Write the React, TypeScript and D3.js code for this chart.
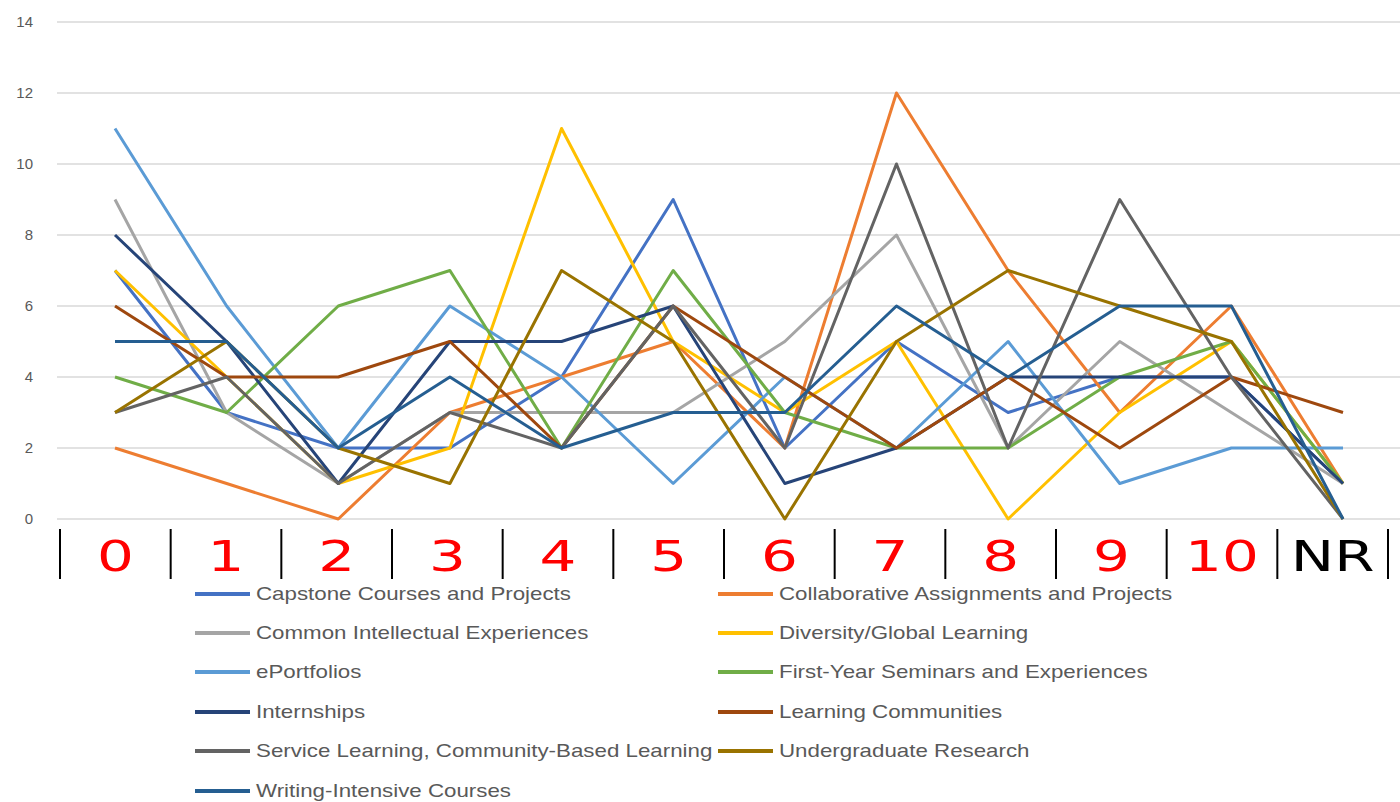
import React from "react";
import * as d3 from "d3";

const categories = ["0", "1", "2", "3", "4", "5", "6", "7", "8", "9", "10", "NR"];
const yTicks = [0, 2, 4, 6, 8, 10, 12, 14];

const seriesNames = [
  "Capstone Courses and Projects",
  "Collaborative Assignments and Projects",
  "Common Intellectual Experiences",
  "Diversity/Global Learning",
  "ePortfolios",
  "First-Year Seminars and Experiences",
  "Internships",
  "Learning Communities",
  "Service Learning, Community-Based Learning",
  "Undergraduate Research",
  "Writing-Intensive Courses",
];

const capstone = [7, 3, 2, 2, 4, 9, 2, 5, 3, 4, 4, 1];
const collaborative = [2, 1, 0, 3, 4, 5, 2, 12, 7, 3, 6, 1];
const common = [9, 3, 1, 3, 3, 3, 5, 8, 2, 5, 3, 1];
const diversity = [7, 4, 1, 2, 11, 5, 3, 5, 0, 3, 5, 1];
const eportfolios = [11, 6, 2, 6, 4, 1, 4, 2, 5, 1, 2, 2];
const firstYear = [4, 3, 6, 7, 2, 7, 3, 2, 2, 4, 5, 1];
const internships = [8, 5, 1, 5, 5, 6, 1, 2, 4, 4, 4, 1];
const learningCommunities = [6, 4, 4, 5, 2, 6, 4, 2, 4, 2, 4, 3];
const serviceLearning = [3, 4, 1, 3, 2, 6, 2, 10, 2, 9, 4, 0];
const undergradResearch = [3, 5, 2, 1, 7, 5, 0, 5, 7, 6, 5, 0];
const writingIntensive = [5, 5, 2, 4, 2, 3, 3, 6, 4, 6, 6, 0];

const seriesValues = [
  capstone,
  collaborative,
  common,
  diversity,
  eportfolios,
  firstYear,
  internships,
  learningCommunities,
  serviceLearning,
  undergradResearch,
  writingIntensive,
];

const colors = [
  "#4472C4",
  "#ED7D31",
  "#A5A5A5",
  "#FFC000",
  "#5B9BD5",
  "#70AD47",
  "#264478",
  "#9E480E",
  "#636363",
  "#997300",
  "#255E91",
];

export default function App() {
  const W = 1400;
  const H = 802;
  const xBand = d3.scaleBand<string>().domain(categories).range([60, 1388]).padding(0);
  const xPoint = d3.scalePoint<string>().domain(categories).range([115, 1343]);
  const y = d3.scaleLinear().domain([0, 14]).range([519, 22]);
  const bandCenter = (c: string) => (xBand(c) as number) + xBand.bandwidth() / 2;
  const line = d3
    .line<number>()
    .x((_, i) => xPoint(categories[i]) as number)
    .y((d) => y(d));

  const boundaries = categories.map((c) => xBand(c) as number).concat([xBand.range()[1]]);

  return (
    <svg
      width={W}
      height={H}
      style={{ position: "absolute", left: 0, top: 0, background: "#fff" }}
      fontFamily="'Liberation Sans', Arial, sans-serif"
    >
      {yTicks.map((t) => (
        <g key={t}>
          <line x1={57} x2={1400} y1={y(t)} y2={y(t)} stroke="#D9D9D9" strokeWidth={1.5} />
          <text x={33} y={y(t)} dy="0.35em" textAnchor="end" fontSize={15} fill="#595959">
            {t}
          </text>
        </g>
      ))}

      {boundaries.map((b, i) => (
        <line key={i} x1={b} x2={b} y1={529} y2={579} stroke="#000" strokeWidth={2} />
      ))}

      {categories.map((c) => (
        <text
          key={c}
          transform={`translate(${bandCenter(c)},571) scale(1.38,1)`}
          textAnchor="middle"
          fontSize={42}
          fontFamily="'DejaVu Sans', sans-serif"
          fill={c === "NR" ? "#000" : "#FF0000"}
        >
          {c}
        </text>
      ))}

      {seriesValues.map((vals, i) => (
        <path
          key={i}
          d={line(vals) as string}
          fill="none"
          stroke={colors[i]}
          strokeWidth={3}
          strokeLinejoin="round"
        />
      ))}

      {seriesNames.map((name, i) => {
        const col = i % 2;
        const row = Math.floor(i / 2);
        const lx = col === 0 ? 195 : 718;
        const ly = [594, 633, 672, 712, 751, 791][row];
        return (
          <g key={name}>
            <line x1={lx} x2={lx + 55} y1={ly} y2={ly} stroke={colors[i]} strokeWidth={4} />
            <text
              transform={`translate(${lx + 61},${ly}) scale(1.24,1)`}
              dy="0.35em"
              fontSize={18}
              fill="#595959"
            >
              {name}
            </text>
          </g>
        );
      })}
    </svg>
  );
}
